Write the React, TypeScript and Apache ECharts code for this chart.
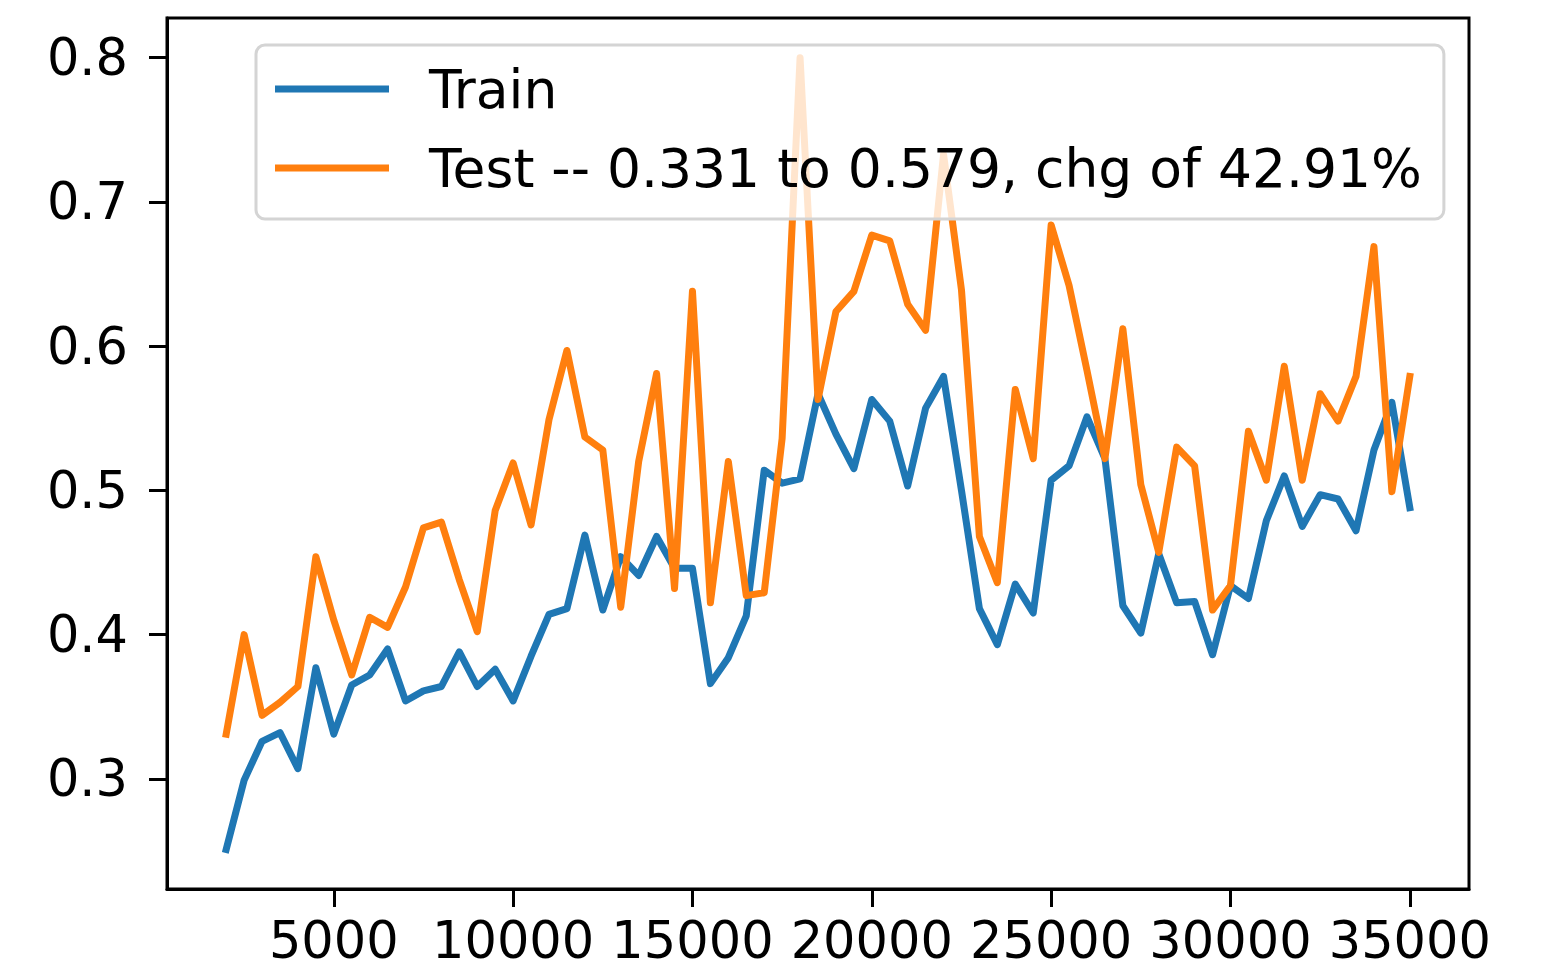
import React, { useEffect, useRef } from "react";
import * as echarts from "echarts";

const steps = [
  2000, 2500, 3000, 3500, 4000, 4500, 5000, 5500, 6000, 6500, 7000, 7500, 8000, 8500, 9000, 9500,
  10000, 10500, 11000, 11500, 12000, 12500, 13000, 13500, 14000, 14500, 15000, 15500, 16000, 16500,
  17000, 17500, 18000, 18500, 19000, 19500, 20000, 20500, 21000, 21500, 22000, 22500, 23000, 23500,
  24000, 24500, 25000, 25500, 26000, 26500, 27000, 27500, 28000, 28500, 29000, 29500, 30000, 30500,
  31000, 31500, 32000, 32500, 33000, 33500, 34000, 34500, 35000,
];

const trainValues = [
  0.251, 0.299, 0.326, 0.332, 0.307, 0.377, 0.331, 0.365, 0.372, 0.39, 0.354, 0.361, 0.364, 0.388,
  0.364, 0.376, 0.354, 0.385, 0.414, 0.418, 0.469, 0.417, 0.454, 0.441, 0.468, 0.446, 0.446, 0.366,
  0.384, 0.413, 0.514, 0.505, 0.508, 0.567, 0.539, 0.515, 0.563, 0.548, 0.503, 0.557, 0.579, 0.5,
  0.418, 0.393, 0.435, 0.415, 0.507, 0.517, 0.551, 0.522, 0.42, 0.401, 0.456, 0.422, 0.423, 0.386,
  0.434, 0.425, 0.479, 0.51, 0.475, 0.497, 0.494, 0.472, 0.528, 0.561, 0.488,
];

const testValues = [
  0.331, 0.4, 0.344, 0.353, 0.364, 0.454, 0.41, 0.372, 0.412, 0.405, 0.433, 0.474, 0.478, 0.438,
  0.402, 0.486, 0.519, 0.476, 0.549, 0.597, 0.537, 0.528, 0.419, 0.52, 0.581, 0.432, 0.638, 0.422,
  0.52, 0.427, 0.429, 0.536, 0.8, 0.563, 0.624, 0.638, 0.677, 0.673, 0.629, 0.611, 0.733, 0.639,
  0.468, 0.436, 0.57, 0.522, 0.684, 0.642, 0.583, 0.522, 0.612, 0.504, 0.457, 0.53, 0.517, 0.417,
  0.434, 0.541, 0.507, 0.586, 0.507, 0.567, 0.548, 0.579, 0.669, 0.499, 0.579,
];

const xTicks = [5000, 10000, 15000, 20000, 25000, 30000, 35000];
const yTicks = [0.3, 0.4, 0.5, 0.6, 0.7, 0.8];

const trainName = "Train";
const testName = "Test -- 0.331 to 0.579, chg of 42.91%";

const FONT = "DejaVu Sans";

export default function App() {
  const ref = useRef<HTMLDivElement>(null);

  useEffect(() => {
    if (!ref.current) return;
    const chart = echarts.init(ref.current, null, { renderer: "svg" });
    chart.setOption({
      animation: false,
      backgroundColor: "#ffffff",
      grid: {
        left: 167,
        right: 88,
        top: 18,
        bottom: 82,
        show: true,
        borderColor: "#000000",
        borderWidth: 3,
        backgroundColor: "transparent",
      },
      xAxis: {
        type: "value",
        min: 350,
        max: 36650,
        axisLine: { show: true, onZero: false, lineStyle: { color: "#000", width: 3 } },
        axisTick: { show: true, length: 18, lineStyle: { color: "#000", width: 3 }, customValues: xTicks },
        axisLabel: {
          show: true,
          customValues: xTicks,
          margin: 26,
          fontSize: 51,
          fontFamily: FONT,
          color: "#000",
          formatter: (v: number) => String(v),
        },
        splitLine: { show: false },
      },
      yAxis: {
        type: "value",
        min: 0.2236,
        max: 0.8275,
        axisLine: { show: true, lineStyle: { color: "#000", width: 3 } },
        axisTick: { show: true, length: 18, lineStyle: { color: "#000", width: 3 }, customValues: yTicks },
        axisLabel: {
          show: true,
          customValues: yTicks,
          margin: 39,
          fontSize: 51,
          fontFamily: FONT,
          color: "#000",
          formatter: (v: number) => v.toFixed(1),
        },
        splitLine: { show: false },
      },
      legend: {
        orient: "vertical",
        left: 256,
        top: 45,
        icon: "rect",
        itemWidth: 114,
        itemHeight: 7,
        itemGap: 25,
        padding: [17, 22, 24, 19],
        backgroundColor: "rgba(255,255,255,0.8)",
        borderColor: "#d4d4d4",
        borderWidth: 3,
        borderRadius: 9,
        textStyle: {
          fontSize: 53.5,
          fontFamily: FONT,
          color: "#000",
          padding: [0, 0, 0, 35],
        },
        data: [trainName, testName],
      },
      series: [
        {
          name: trainName,
          type: "line",
          showSymbol: false,
          symbol: "none",
          color: "#1f77b4",
          lineStyle: { width: 7, color: "#1f77b4", join: "round", cap: "square" },
          data: steps.map((s, i) => [s, trainValues[i]]),
        },
        {
          name: testName,
          type: "line",
          showSymbol: false,
          symbol: "none",
          color: "#ff7f0e",
          lineStyle: { width: 7, color: "#ff7f0e", join: "round", cap: "square" },
          data: steps.map((s, i) => [s, testValues[i]]),
        },
      ],
    });
    return () => chart.dispose();
  }, []);

  return (
    <div
      ref={ref}
      style={{ position: "absolute", left: 0, top: 0, width: 1557, height: 971, background: "#fff" }}
    />
  );
}
